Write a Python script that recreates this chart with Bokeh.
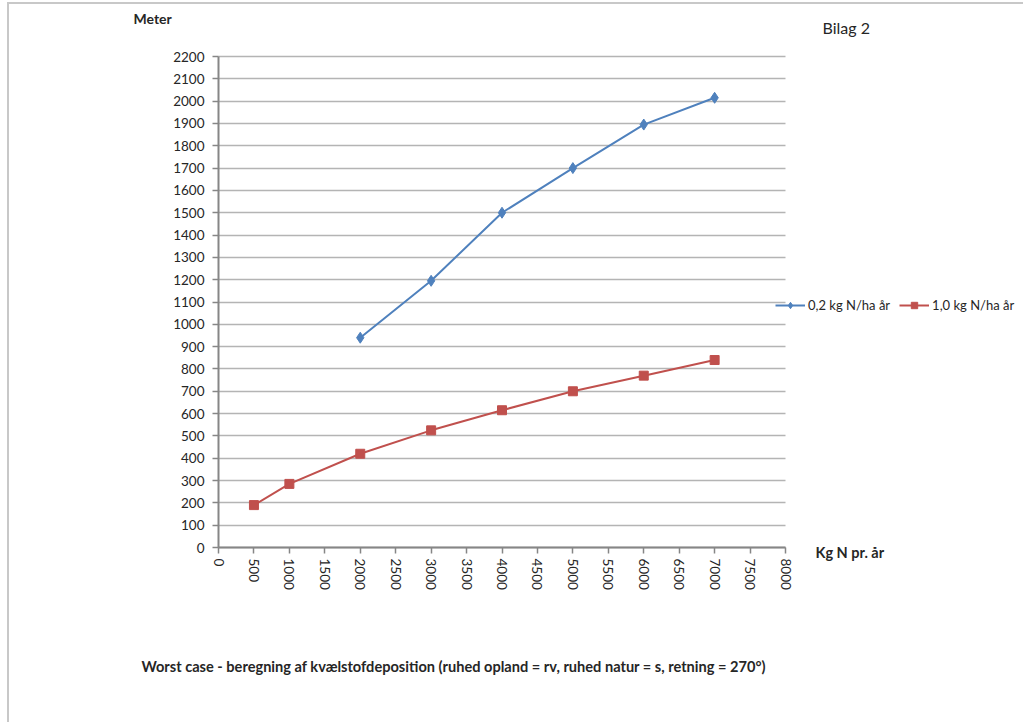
import math
from bokeh.plotting import figure
from bokeh.models import (Range1d, SingleIntervalTicker, Label, Legend, LegendItem)
from bokeh.embed import file_html
from bokeh.resources import INLINE

# Data
kg_n_blue = [2000, 3000, 4000, 5000, 6000, 7000]
meter_blue = [940, 1195, 1500, 1700, 1895, 2015]
kg_n_red = [500, 1000, 2000, 3000, 4000, 5000, 6000, 7000]
meter_red = [190, 285, 420, 525, 615, 700, 770, 840]
series_names = ["0,2 kg N/ha år", "1,0 kg N/ha år"]
x_axis_span = (0, 8000)
y_axis_span = (0, 2200)

BLUE = "#4F81BD"
RED = "#C0504D"
FONT = "Lato"
TXT = "#262626"

W, H = 1016, 720
# plot area (data span) position inside the canvas, in pixels
PL, PR, PT, PB = 209, 776, 52, 543
xs = (x_axis_span[1] - x_axis_span[0]) / (PR - PL)
ys = (y_axis_span[1] - y_axis_span[0]) / (PB - PT)
x_range = Range1d(x_axis_span[0] - PL * xs, x_axis_span[1] + (W - PR) * xs)
y_range = Range1d(y_axis_span[0] - (H - PB) * ys, y_axis_span[1] + PT * ys)

p = figure(width=W, height=H, output_backend="svg", toolbar_location=None,
           x_range=x_range, y_range=y_range,
           min_border=0, min_border_left=0, min_border_right=0,
           min_border_top=0, min_border_bottom=0)
p.outline_line_color = None
p.background_fill_color = "white"
p.border_fill_color = "white"
p.styles = {"margin-left": "7px", "margin-top": "2px",
            "border-left": "2px solid #c8c8c8", "border-top": "2px solid #c8c8c8"}

p.xaxis.ticker = SingleIntervalTicker(interval=500, num_minor_ticks=0)
p.yaxis.ticker = SingleIntervalTicker(interval=100, num_minor_ticks=0)
p.xaxis.fixed_location = 0
p.yaxis.fixed_location = 0
p.xaxis.bounds = x_axis_span
p.yaxis.bounds = y_axis_span
for ax in (p.xaxis, p.yaxis):
    ax.axis_line_color = "#868686"
    ax.axis_line_width = 2
    ax.major_tick_line_color = "#868686"
    ax.major_tick_line_width = 1.5
    ax.major_tick_out = 6
    ax.major_tick_in = 0
    ax.minor_tick_line_color = None
    ax.major_label_text_font = FONT
    ax.major_label_text_font_size = "13.5px"
    ax.major_label_text_color = TXT
p.xaxis.major_label_orientation = -math.pi / 2
p.xaxis.major_label_standoff = 5
p.yaxis.major_label_standoff = 8

p.xgrid.grid_line_color = None
p.ygrid.grid_line_color = "#b4b4b4"
p.ygrid.grid_line_width = 1.5
p.ygrid.bounds = y_axis_span
p.ygrid.cross_bounds = x_axis_span

r1l = p.line(kg_n_blue, meter_blue, line_color=BLUE, line_width=2)
r1m = p.scatter(kg_n_blue, meter_blue, marker="diamond", size=11, fill_color=BLUE, line_color=BLUE)
r2l = p.line(kg_n_red, meter_red, line_color=RED, line_width=2)
r2m = p.scatter(kg_n_red, meter_red, marker="square", size=9, fill_color=RED, line_color=RED)

legend = Legend(items=[LegendItem(label=series_names[0], renderers=[r1l, r1m]),
                       LegendItem(label=series_names[1], renderers=[r2l, r2m])],
                location=(766, 411), orientation="horizontal",
                border_line_color=None, background_fill_alpha=0,
                padding=0, margin=0, spacing=9, label_standoff=3,
                glyph_width=30, glyph_height=16,
                label_text_font=FONT, label_text_font_size="13px",
                label_text_color=TXT)
p.add_layout(legend, "center")

def lab(x, y, text, size="13px", bold=True):
    p.add_layout(Label(x=x, y=y, x_units="screen", y_units="screen", text=text,
                       text_font=FONT, text_font_size=size,
                       text_font_style="bold" if bold else "normal",
                       text_color=TXT, text_baseline="middle", text_align="left"))

lab(124, 706, "Meter", size="14px")
lab(813, 697, "Bilag 2", size="16px", bold=False)
lab(806, 172, "Kg N pr. år", size="14.5px")
lab(132, 58, "Worst case - beregning af kvælstofdeposition (ruhed opland = rv, ruhed natur = s, retning = 270°)", size="14.6px")

open("out.html", "w").write(file_html(p, INLINE))
